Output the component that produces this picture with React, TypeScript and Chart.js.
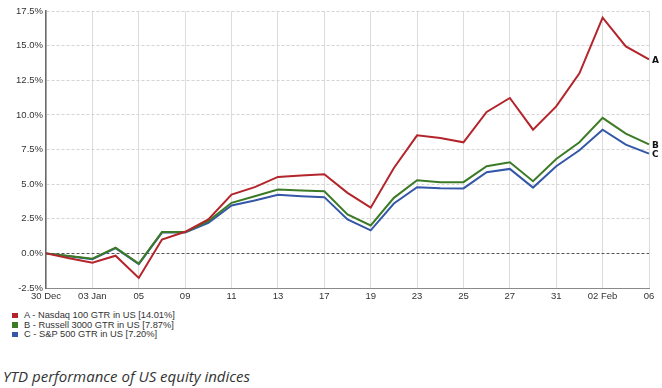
import React, { useEffect, useRef } from "react";
import { Chart, registerables } from "chart.js";

Chart.register(...registerables);

const categories = [
  "30 Dec", "", "03 Jan", "", "05", "", "09", "", "11", "", "13", "", "17", "",
  "19", "", "23", "", "25", "", "27", "", "31", "", "02 Feb", "", "06",
];

const seriesNames = [
  "A - Nasdaq 100 GTR in US [14.01%]",
  "B - Russell 3000 GTR in US [7.87%]",
  "C - S&P 500 GTR in US [7.20%]",
];
const endLabels = ["A", "B", "C"];
const seriesColors = ["#b3252b", "#3c7b26", "#3457a8"];

const nasdaq = [0, -0.35, -0.67, -0.17, -1.78, 1.0, 1.56, 2.45, 4.25, 4.78, 5.52, 5.62, 5.71, 4.37, 3.3, 6.17, 8.52, 8.33, 8.02, 10.21, 11.22, 8.93, 10.61, 13.0, 17.02, 14.94, 14.01];
const russell = [0, -0.19, -0.38, 0.41, -0.74, 1.54, 1.54, 2.33, 3.65, 4.13, 4.61, 4.54, 4.49, 2.81, 2.02, 4.01, 5.28, 5.14, 5.14, 6.29, 6.58, 5.21, 6.82, 8.02, 9.78, 8.65, 7.87];
const sp500 = [0, -0.2, -0.42, 0.38, -0.78, 1.5, 1.5, 2.21, 3.46, 3.82, 4.23, 4.13, 4.06, 2.45, 1.66, 3.6, 4.78, 4.71, 4.69, 5.86, 6.1, 4.75, 6.29, 7.44, 8.93, 7.85, 7.2];

const caption = "YTD performance of US equity indices";

const FONT = "'Liberation Sans', Arial, sans-serif";

const endLabelPlugin = {
  id: "endLabels",
  afterDatasetsDraw(chart: any) {
    const ctx = chart.ctx;
    ctx.save();
    ctx.font = "bold 9px 'DejaVu Sans', sans-serif";
    ctx.fillStyle = "#111";
    ctx.textAlign = "left";
    ctx.textBaseline = "middle";
    chart.data.datasets.forEach((ds: any, i: number) => {
      const meta = chart.getDatasetMeta(i);
      const pt = meta.data[meta.data.length - 1];
      if (pt) ctx.fillText(endLabels[i], pt.x + 3, pt.y + 1);
    });
    ctx.restore();
  },
};

export default function App() {
  const ref = useRef<HTMLCanvasElement>(null);

  useEffect(() => {
    if (!ref.current) return;
    const seriesData = [nasdaq, russell, sp500];
    const chart = new Chart(ref.current, {
      type: "line",
      data: {
        labels: categories,
        datasets: seriesData.map((d, i) => ({
          label: seriesNames[i],
          data: d,
          borderColor: seriesColors[i],
          backgroundColor: seriesColors[i],
          borderWidth: 2,
          pointRadius: 0,
          tension: 0,
          fill: false,
        })),
      },
      options: {
        responsive: false,
        maintainAspectRatio: false,
        animation: false,
        layout: { padding: { top: 11, right: 13, left: 0, bottom: 0 } },
        plugins: {
          legend: { display: false },
          tooltip: { enabled: false },
        },
        scales: {
          x: {
            type: "category",
            offset: false,
            afterFit: (s: any) => {
              s.height = 17;
            },
            grid: {
              color: (c: any) => (c.index % 2 === 0 ? "#dcdcdc" : "rgba(0,0,0,0)"),
              lineWidth: 1,
              drawTicks: false,
            },
            border: { display: true, color: "#8a8a8a", width: 1 },
            ticks: {
              autoSkip: false,
              maxRotation: 0,
              minRotation: 0,
              padding: 3,
              color: "#333",
              font: { family: FONT, size: 9.5 },
              callback: (_v: any, idx: number) => categories[idx],
            },
          },
          y: {
            min: -2.5,
            max: 17.5,
            afterFit: (s: any) => {
              s.width = 46;
            },
            grid: {
              color: (c: any) => (c.tick && c.tick.value === 0 ? "#555" : "#d4d4d4"),
              lineWidth: 1,
              drawTicks: false,
            },
            border: { display: true, color: "#6a6a6a", width: 1.5, dash: [3, 2] },
            ticks: {
              stepSize: 2.5,
              padding: 3,
              color: "#333",
              font: { family: FONT, size: 9.5 },
              callback: (v: any) => Number(v).toFixed(1) + "%",
            },
          },
        },
      },
      plugins: [endLabelPlugin],
    } as any);
    return () => chart.destroy();
  }, []);

  return (
    <div style={{ position: "absolute", left: 0, top: 0, width: 662, height: 388, background: "#fff", overflow: "hidden" }}>
      <canvas ref={ref} width={662} height={305} style={{ display: "block", position: "absolute", left: 0, top: 0 }} />
      <div style={{ position: "absolute", left: 0, top: 311, fontFamily: FONT, fontSize: 9.3, color: "#333" }}>
        {seriesNames.map((n, i) => (
          <div key={n} style={{ position: "relative", height: 9.6, lineHeight: "9.6px", whiteSpace: "nowrap" }}>
            <span style={{ position: "absolute", left: 12, top: 1.5, width: 5.5, height: 5.5, background: seriesColors[i] }} />
            <span style={{ position: "absolute", left: 24, top: 0 }}>{n}</span>
          </div>
        ))}
      </div>
      <div style={{ position: "absolute", left: 3, top: 366, fontFamily: "'Open Sans', sans-serif", fontStyle: "italic", fontSize: 15, lineHeight: "20px", color: "#333", whiteSpace: "nowrap" }}>
        {caption}
      </div>
    </div>
  );
}
